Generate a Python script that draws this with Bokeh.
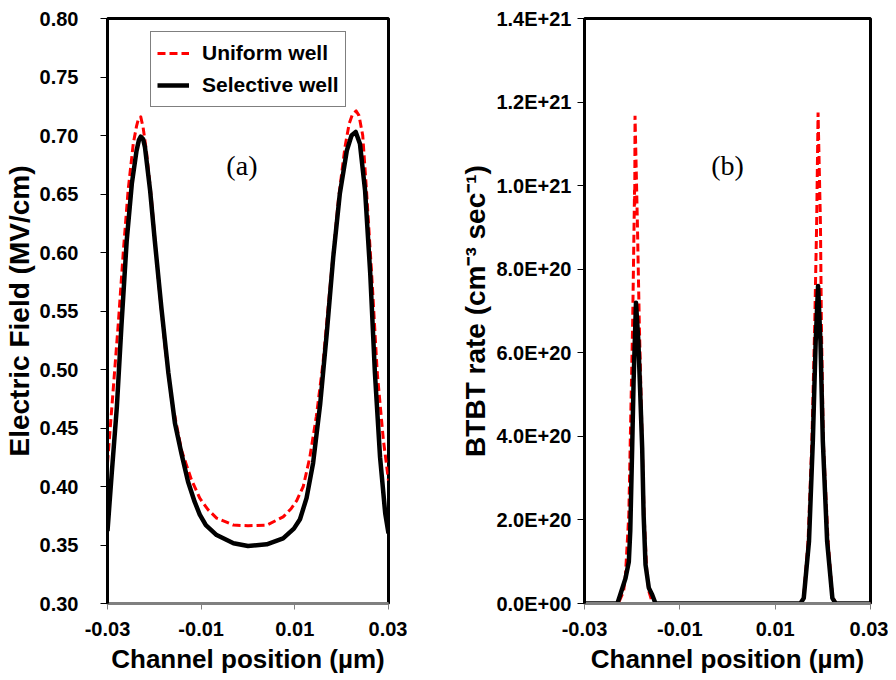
from bokeh.plotting import figure
from bokeh.layouts import row
from bokeh.models import (Range1d, FixedTicker, PrintfTickFormatter,
                          CustomJSTickFormatter, Label)
from bokeh.embed import file_html
from bokeh.resources import INLINE

# ---------------- data ----------------
# Panel (a): electric field (MV/cm) vs channel position (um)
ef_x_uniform = [-0.0300, -0.0288, -0.0277, -0.0266, -0.0256, -0.0245, -0.0238, -0.0234,
                -0.0229, -0.0224, -0.0217, -0.0206, -0.0192, -0.0177, -0.0163, -0.0142,
                -0.0121, -0.0103, -0.0085, -0.0067, -0.0031, 0.0000, 0.0040, 0.0075,
                0.0092, 0.0104, 0.0118, 0.0132, 0.0146, 0.0160, 0.0175, 0.0193,
                0.0207, 0.0216, 0.0223, 0.0231, 0.0237, 0.0245, 0.0253, 0.0264,
                0.0276, 0.0289, 0.0300]
ef_uniform = [0.420, 0.482, 0.539, 0.602, 0.653, 0.693, 0.708, 0.714,
              0.716, 0.707, 0.687, 0.645, 0.579, 0.519, 0.474, 0.431,
              0.406, 0.390, 0.380, 0.373, 0.367, 0.3665, 0.367, 0.374,
              0.381, 0.388, 0.400, 0.425, 0.460, 0.505, 0.570, 0.645,
              0.690, 0.710, 0.718, 0.721, 0.717, 0.700, 0.653, 0.582,
              0.497, 0.440, 0.405]

ef_x_selective = [-0.0300, -0.0291, -0.0280, -0.0270, -0.0259, -0.0248, -0.0238, -0.0233,
                  -0.0229, -0.0224, -0.0220, -0.0209, -0.0199, -0.0185, -0.0170, -0.0156,
                  -0.0142, -0.0128, -0.0114, -0.0103, -0.0090, -0.0067, -0.0031, 0.0000,
                  0.0040, 0.0075, 0.0098, 0.0111, 0.0125, 0.0139, 0.0154, 0.0168,
                  0.0182, 0.0196, 0.0211, 0.0221, 0.0230, 0.0239, 0.0250, 0.0261,
                  0.0271, 0.0282, 0.0293, 0.0300]
ef_selective = [0.362, 0.411, 0.468, 0.539, 0.610, 0.659, 0.687, 0.696,
                0.699, 0.697, 0.690, 0.653, 0.610, 0.553, 0.497, 0.454,
                0.428, 0.404, 0.387, 0.376, 0.367, 0.3585, 0.3515, 0.3492,
                0.3506, 0.3557, 0.364, 0.372, 0.390, 0.420, 0.470, 0.530,
                0.596, 0.650, 0.687, 0.700, 0.703, 0.693, 0.653, 0.582,
                0.497, 0.425, 0.377, 0.360]

# Panel (b): BTBT rate (cm^-3 s^-1) vs channel position (um)
btbt_x_uniform = [-0.0300, -0.0229, -0.0218, -0.0214, -0.0207, -0.0204, -0.0199, -0.0196,
                  -0.01950, -0.01946, -0.0194, -0.0189, -0.0185, -0.0179, -0.0175, -0.0169,
                  -0.0165, -0.0157, 0.0153, 0.0160, 0.0169, 0.0177, 0.0183, 0.0187,
                  0.0190, 0.0195, 0.0197, 0.0201, 0.0211, 0.0220, 0.0227, 0.0300]
btbt_uniform = [0.0, 0.0, 0.29e20, 0.69e20, 2.13e20, 3.88e20, 6.69e20, 9.08e20,
                9.9e20, 9.5e20, 11.67e20, 9.08e20, 6.69e20, 3.88e20, 2.13e20, 0.69e20,
                0.29e20, 0.0, 0.0, 0.2e20, 1.49e20, 3.88e20, 6.68e20, 9.08e20,
                11.75e20, 9.08e20, 6.68e20, 3.88e20, 1.49e20, 0.2e20, 0.0, 0.0]

btbt_x_selective = [-0.0300, -0.0231, -0.0225, -0.0214, -0.0207, -0.0204, -0.0200, -0.0197,
                    -0.0192, -0.0187, -0.0184, -0.0179, -0.0176, -0.0172, -0.0165, -0.0158,
                    -0.0151, 0.0153, 0.0160, 0.0171, 0.0179, 0.0185, 0.0190, 0.0195,
                    0.0200, 0.0209, 0.0220, 0.0227, 0.0300]
btbt_selective = [0.0, 0.0, 0.21e20, 0.6e20, 1.0e20, 1.73e20, 3.72e20, 5.32e20,
                  7.2e20, 6.28e20, 5.32e20, 3.72e20, 2.13e20, 0.93e20, 0.37e20, 0.21e20,
                  0.0, 0.0, 0.13e20, 1.49e20, 3.88e20, 6.28e20, 7.6e20, 6.28e20,
                  3.88e20, 1.49e20, 0.13e20, 0.0, 0.0]

x_ticks = [-0.03, -0.01, 0.01, 0.03]
x_tick_labels = ["-0.03", "-0.01", "0.01", "0.03"]
ef_ticks = [0.30, 0.35, 0.40, 0.45, 0.50, 0.55, 0.60, 0.65, 0.70, 0.75, 0.80]
btbt_ticks = [0.0, 2e20, 4e20, 6e20, 8e20, 1.0e21, 1.2e21, 1.4e21]

series_names = ["Uniform well", "Selective well"]

# ---------------- styling ----------------
FONT = "Liberation Sans"
TICK_SIZE = "20px"
XLABEL_SIZE = "26px"
YLABEL_SIZE = "28px"
RED = "#ff0000"
GRAY = "#808080"


def style(p, y_standoff):
    p.toolbar.logo = None
    p.background_fill_color = "white"
    p.border_fill_color = "white"
    p.outline_line_color = "black"
    p.outline_line_width = 3
    p.xgrid.visible = False
    p.ygrid.visible = False
    xa = p.xaxis[0]
    xa.ticker = FixedTicker(ticks=x_ticks)
    xa.major_label_overrides = {t: l for t, l in zip(x_ticks, x_tick_labels)}
    xa.axis_line_color = GRAY
    xa.axis_line_width = 3
    xa.major_tick_line_color = GRAY
    xa.major_tick_out = 6
    xa.major_tick_in = 0
    xa.minor_tick_line_color = None
    xa.major_label_standoff = 12
    xa.axis_label_standoff = 5
    xa.axis_label_text_font_size = XLABEL_SIZE
    ya = p.yaxis[0]
    ya.axis_line_color = "black"
    ya.axis_line_width = 3
    ya.major_tick_line_color = "black"
    ya.major_tick_out = 7
    ya.major_tick_in = 0
    ya.minor_tick_line_color = None
    ya.major_label_standoff = y_standoff
    ya.axis_label_standoff = 2
    ya.axis_label_text_font_size = YLABEL_SIZE
    for ax in (xa, ya):
        ax.major_label_text_font = FONT
        ax.major_label_text_font_style = "bold"
        ax.major_label_text_font_size = TICK_SIZE
        ax.major_label_text_color = "black"
        ax.axis_label_text_font = FONT
        ax.axis_label_text_font_style = "bold"
        ax.axis_label_text_color = "black"


# ---------------- panel (a) ----------------
p1 = figure(frame_width=281, frame_height=585, output_backend="svg",
            toolbar_location=None,
            x_range=Range1d(-0.03, 0.03), y_range=Range1d(0.30, 0.80),
            min_border_left=107, min_border_right=19, min_border_top=18,
            min_border_bottom=74,
            x_axis_label="Channel position (µm)",
            y_axis_label="Electric Field (MV/cm)")
style(p1, 22)
p1.yaxis[0].ticker = FixedTicker(ticks=ef_ticks)
p1.yaxis[0].formatter = PrintfTickFormatter(format="%.2f")

p1.line(ef_x_uniform, ef_uniform, line_color=RED, line_width=3, line_dash="8 4",
        line_join="round", legend_label=series_names[0])
p1.line(ef_x_selective, ef_selective, line_color="black", line_width=4.5,
        line_join="round", legend_label=series_names[1])

lg = p1.legend[0]
lg.location = (43, 496)
lg.border_line_color = "black"
lg.border_line_width = 1
lg.background_fill_alpha = 1
lg.label_text_font = FONT
lg.label_text_font_style = "bold"
lg.label_text_font_size = "21px"
lg.label_text_color = "black"
lg.glyph_width = 32
lg.glyph_height = 30
lg.label_height = 30
lg.label_standoff = 13
lg.spacing = 2
lg.padding = 6
lg.margin = 0

p1.add_layout(Label(x=-0.0013, y=0.674, text="(a)", text_font="Liberation Serif",
                    text_font_size="28px", text_align="center",
                    text_baseline="middle", text_color="black"))

# ---------------- panel (b) ----------------
p2 = figure(frame_width=286, frame_height=585, output_backend="svg",
            toolbar_location=None,
            x_range=Range1d(-0.03, 0.03), y_range=Range1d(0.0, 1.4e21),
            min_border_left=177, min_border_right=18, min_border_top=18,
            min_border_bottom=74,
            x_axis_label="Channel position (µm)",
            y_axis_label="BTBT rate (cm⁻³ sec⁻¹)")
style(p2, 6)
p2.yaxis[0].ticker = FixedTicker(ticks=btbt_ticks)
p2.yaxis[0].formatter = CustomJSTickFormatter(code="""
    if (tick == 0) { return "0.0E+00"; }
    const e = Math.floor(Math.log10(Math.abs(tick)) + 1e-9);
    const m = tick / Math.pow(10, e);
    return m.toFixed(1) + "E+" + e;
""")

p2.line(btbt_x_uniform, btbt_uniform, line_color=RED, line_width=3, line_dash="8 4")
p2.line(btbt_x_selective, btbt_selective, line_color="black", line_width=4.5,
        line_join="round")

p2.add_layout(Label(x=0.0, y=1.048e21, text="(b)", text_font="Liberation Serif",
                    text_font_size="28px", text_align="center",
                    text_baseline="middle", text_color="black"))

layout = row(p1, p2)
open("out.html", "w").write(file_html(layout, INLINE))
